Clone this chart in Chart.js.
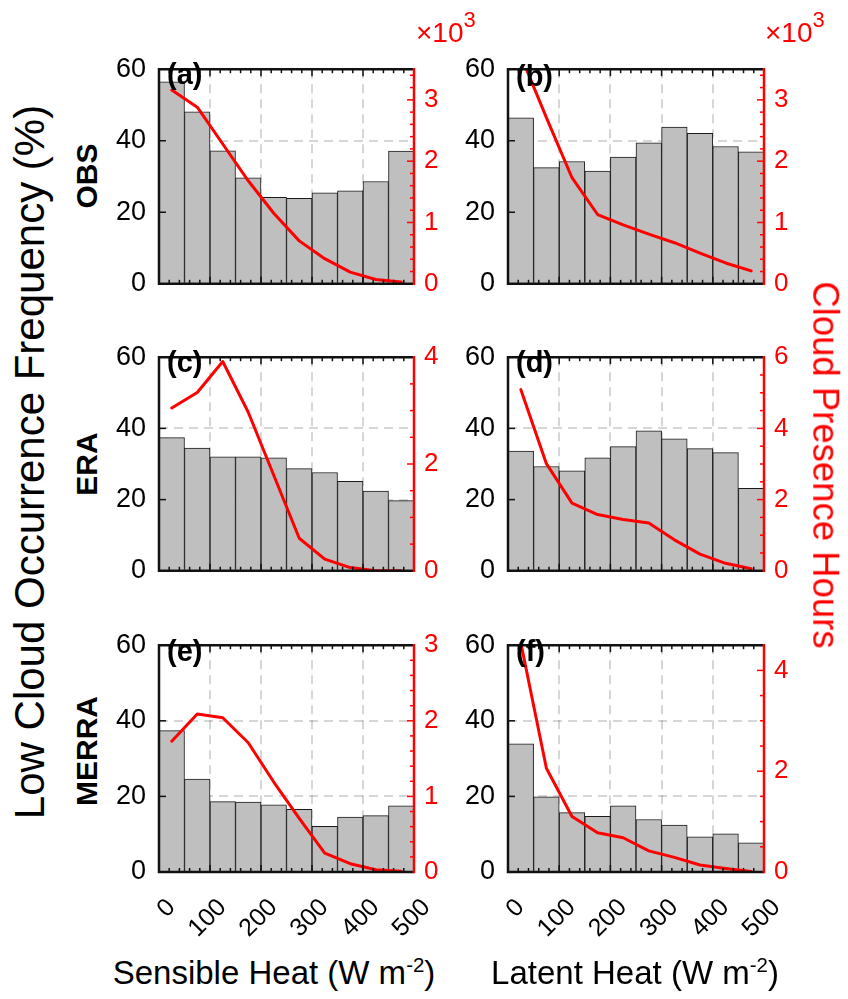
<!DOCTYPE html>
<html>
<head>
<meta charset="utf-8">
<script src="https://cdn.jsdelivr.net/npm/chart.js@4.4.0/dist/chart.umd.min.js"></script>
<style>
html,body{margin:0;padding:0;background:#fff;}
#wrap{position:relative;width:848px;height:999px;overflow:hidden;background:#fff;font-family:"Liberation Sans",Arial,Helvetica,sans-serif;}
canvas{position:absolute;}
.t{position:absolute;white-space:nowrap;line-height:1;color:#000;}
.b{font-weight:bold;}
.r{color:#ff0000;}
.s{font-size:0.62em;position:relative;top:-0.6em;}
.c{transform:translate(-50%,-50%);}
.up{transform:translate(-50%,-50%) rotate(-90deg);}
.dn{transform:translate(-50%,-50%) rotate(90deg);}
.e{font-size:22px;position:relative;top:-15px;}
</style>
</head>
<body>
<div id="wrap">
  <canvas id="pa" width="355" height="273" style="left:109px;top:40px;"></canvas>
  <canvas id="pb" width="356" height="273" style="left:458px;top:40px;"></canvas>
  <canvas id="pc" width="355" height="272" style="left:109px;top:328px;"></canvas>
  <canvas id="pd" width="356" height="272" style="left:458px;top:328px;"></canvas>
  <canvas id="pe" width="355" height="336" style="left:109px;top:616px;"></canvas>
  <canvas id="pf" width="356" height="336" style="left:458px;top:616px;"></canvas>

  <div class="t up" style="left:30px;top:462px;font-size:42px;">Low Cloud Occurrence Frequency (%)</div>
  <div class="t dn r" style="left:825px;top:465px;font-size:36.5px;">Cloud Presence Hours</div>

  <div class="t b up" style="left:87px;top:176px;font-size:30px;">OBS</div>
  <div class="t b up" style="left:87px;top:464px;font-size:30px;">ERA</div>
  <div class="t b up" style="left:87px;top:751px;font-size:30px;">MERRA</div>

  <div class="t c" style="left:274px;top:972px;font-size:33px;">Sensible Heat (W m<span class="s">-2</span>)</div>
  <div class="t c" style="left:635px;top:972px;font-size:33px;">Latent Heat (W m<span class="s">-2</span>)</div>

  <div class="t r" style="left:416px;top:19px;font-size:28px;">×10<span class="e">3</span></div>
  <div class="t r" style="left:765px;top:19px;font-size:28px;">×10<span class="e">3</span></div>

  <div class="t b" style="left:167px;top:60px;font-size:29px;">(a)</div>
  <div class="t b" style="left:516px;top:62px;font-size:29px;">(b)</div>
  <div class="t b" style="left:167px;top:348px;font-size:29px;">(c)</div>
  <div class="t b" style="left:516px;top:348px;font-size:29px;">(d)</div>
  <div class="t b" style="left:167px;top:637px;font-size:29px;">(e)</div>
  <div class="t b" style="left:516px;top:637px;font-size:29px;">(f)</div>
</div>

<script>
// ---------------- data ----------------
const BIN_CENTERS = [25, 75, 125, 175, 225, 275, 325, 375, 425, 475];
const X_TICKS = [0, 100, 200, 300, 400, 500];
const FREQ_TICKS = [0, 20, 40, 60];

const OBS_SH_FREQ   = [56.5, 48.1, 37.2, 29.6, 24.2, 23.9, 25.4, 26.0, 28.6, 37.1];
const OBS_SH_HOURS  = [3.16, 2.88, 2.28, 1.68, 1.15, 0.70, 0.41, 0.19, 0.07, 0.03];
const OBS_LH_FREQ   = [46.4, 32.5, 34.2, 31.5, 35.4, 39.4, 43.8, 42.1, 38.4, 36.9];
const OBS_LH_HOURS  = [3.72, 2.71, 1.73, 1.13, 0.96, 0.81, 0.67, 0.50, 0.34, 0.21];
const ERA_SH_FREQ   = [37.4, 34.5, 32.0, 32.0, 31.7, 28.7, 27.6, 25.1, 22.4, 19.7];
const ERA_SH_HOURS  = [3.05, 3.34, 3.92, 2.97, 1.79, 0.61, 0.22, 0.06, 0.00, 0.00];
const ERA_LH_FREQ   = [33.6, 29.3, 28.1, 31.7, 34.9, 39.3, 37.1, 34.3, 33.2, 23.2];
const ERA_LH_HOURS  = [5.09, 3.01, 1.90, 1.58, 1.44, 1.34, 0.87, 0.47, 0.21, 0.06];
const MERRA_SH_FREQ = [37.4, 24.6, 18.6, 18.5, 17.8, 16.6, 12.1, 14.5, 14.9, 17.5];
const MERRA_SH_HOURS= [1.73, 2.09, 2.04, 1.71, 1.19, 0.71, 0.25, 0.11, 0.03, 0.01];
const MERRA_LH_FREQ = [33.9, 19.9, 15.7, 14.7, 17.5, 13.9, 12.4, 9.3, 10.1, 7.7];
const MERRA_LH_HOURS= [4.55, 2.06, 1.10, 0.78, 0.68, 0.42, 0.29, 0.14, 0.07, 0.01];

// right-axis tick labels and limits
const R_TICKS_A = [0, 1, 2, 3];    const R_MAX_A = 3.5;
const R_TICKS_B = [0, 1, 2, 3];    const R_MAX_B = 3.5;
const R_TICKS_C = [0, 2, 4];       const R_MAX_C = 4;
const R_TICKS_D = [0, 2, 4, 6];    const R_MAX_D = 6;
const R_TICKS_E = [0, 1, 2, 3];    const R_MAX_E = 3;
const R_TICKS_F = [0, 2, 4];       const R_MAX_F = 4.5;

// ---------------- style ----------------
const FONT = '"Liberation Sans", Arial, Helvetica, sans-serif';
const RED = '#ff0000';
const GRID = 'rgba(0,0,0,0.16)';

const framePlugin = {
  id: 'frame',
  afterDraw(chart) {
    const o = chart.options.plugins.frame;
    const ctx = chart.ctx, a = chart.chartArea;
    const xt = chart.scales.xt, y = chart.scales.y, y1 = chart.scales.y1;
    const seg = (x1, yy1, x2, yy2) => { ctx.beginPath(); ctx.moveTo(x1, yy1); ctx.lineTo(x2, yy2); ctx.stroke(); };
    ctx.save();
    ctx.lineCap = 'butt';
    ctx.strokeStyle = '#111';
    ctx.lineWidth = 1.5;
    const x0 = X_TICKS[0], x1 = X_TICKS[X_TICKS.length - 1];
    for (let v = x0; v <= x1 + 1e-9; v += o.xMinor) {
      const px = xt.getPixelForValue(v);
      const major = X_TICKS.some(t => Math.abs(t - v) < 1e-6);
      const len = major ? 7 : 4;
      seg(px, a.bottom, px, a.bottom - len);
      seg(px, a.top, px, a.top + len);
    }
    FREQ_TICKS.forEach(v => { const py = y.getPixelForValue(v); seg(a.left, py, a.left + 7, py); });
    ctx.strokeStyle = RED;
    for (let v = 0; v <= y1.max + 1e-9; v += o.rMinor) {
      const py = y1.getPixelForValue(v);
      const major = o.rTicks.some(t => Math.abs(t - v) < 1e-6);
      seg(a.right, py, a.right - (major ? 7 : 4), py);
    }
    ctx.lineWidth = 2.5;
    ctx.strokeStyle = '#111';
    ctx.beginPath();
    ctx.moveTo(a.right, a.top); ctx.lineTo(a.left, a.top);
    ctx.lineTo(a.left, a.bottom); ctx.lineTo(a.right, a.bottom);
    ctx.stroke();
    ctx.strokeStyle = RED;
    seg(a.right, a.top - 1.2, a.right, a.bottom + 1.2);

    // rotated x tick labels of the bottom row, placed through the x scale
    if (o.xLabels) {
      ctx.fillStyle = '#000';
      ctx.font = '25px ' + FONT;
      ctx.textAlign = 'right';
      ctx.textBaseline = 'alphabetic';
      X_TICKS.forEach(v => {
        const px = xt.getPixelForValue(v);
        ctx.save();
        ctx.translate(px + 11, a.bottom + 30);
        ctx.rotate(-Math.PI / 4);
        ctx.fillText(String(v), 0, 9);
        ctx.restore();
      });
    }
    ctx.restore();
  }
};

function panel(id, freq, hours, rTicks, rMax, rMinor, bottomRow) {
  return new Chart(document.getElementById(id), {
    type: 'bar',
    data: {
      labels: BIN_CENTERS,
      datasets: [
        { type: 'line', data: hours, xAxisID: 'x', yAxisID: 'y1', borderColor: RED, borderWidth: 3,
          pointRadius: 0, tension: 0, fill: false, order: 0, borderJoinStyle: 'round', borderCapStyle: 'round' },
        { type: 'bar', data: freq, xAxisID: 'x', yAxisID: 'y', backgroundColor: '#bfbfbf', borderColor: '#1a1a1a',
          borderWidth: 1, barPercentage: 1, categoryPercentage: 1, order: 1 }
      ]
    },
    options: {
      responsive: false, animation: false, events: [],
      layout: { padding: { top: 15, bottom: bottomRow ? 0 : 15, left: 0, right: 0 } },
      plugins: { legend: { display: false }, tooltip: { enabled: false },
                 frame: { xMinor: 20, rTicks: rTicks, rMinor: rMinor, xLabels: bottomRow } },
      scales: {
        x: { type: 'category', display: false, offset: true },
        xt: { type: 'linear', position: 'bottom', min: 0, max: 500, z: 1, offset: false,
              afterBuildTicks: s => { s.ticks = X_TICKS.map(v => ({ value: v })); },
              afterFit: s => { s.height = bottomRow ? 80 : 0; },
              ticks: { display: false },
              grid: { color: GRID, lineWidth: 2, drawTicks: false, offset: false },
              border: { display: false, dash: [9, 6] } },
        y: { position: 'left', min: 0, max: 60, z: 1, offset: false,
             afterBuildTicks: s => { s.ticks = FREQ_TICKS.map(v => ({ value: v })); },
             afterFit: s => { s.width = 50; },
             ticks: { padding: 13, color: '#000', font: { family: FONT, size: 27 } },
             grid: { color: GRID, lineWidth: 2, drawTicks: false, offset: false },
             border: { display: false, dash: [9, 6] } },
        y1: { position: 'right', min: 0, max: rMax, offset: false,
              afterBuildTicks: s => { s.ticks = rTicks.map(v => ({ value: v })); },
              afterFit: s => { s.width = 50; },
              ticks: { padding: 10, color: RED, font: { family: FONT, size: 26 } },
              grid: { display: false, drawTicks: false },
              border: { display: false } }
      }
    },
    plugins: [framePlugin]
  });
}

panel('pa', OBS_SH_FREQ,   OBS_SH_HOURS,   R_TICKS_A, R_MAX_A, 0.2, false);
panel('pb', OBS_LH_FREQ,   OBS_LH_HOURS,   R_TICKS_B, R_MAX_B, 0.2, false);
panel('pc', ERA_SH_FREQ,   ERA_SH_HOURS,   R_TICKS_C, R_MAX_C, 0.5, false);
panel('pd', ERA_LH_FREQ,   ERA_LH_HOURS,   R_TICKS_D, R_MAX_D, 0.5, false);
panel('pe', MERRA_SH_FREQ, MERRA_SH_HOURS, R_TICKS_E, R_MAX_E, 0.2, true);
panel('pf', MERRA_LH_FREQ, MERRA_LH_HOURS, R_TICKS_F, R_MAX_F, 0.5, true);
</script>
</body>
</html>
